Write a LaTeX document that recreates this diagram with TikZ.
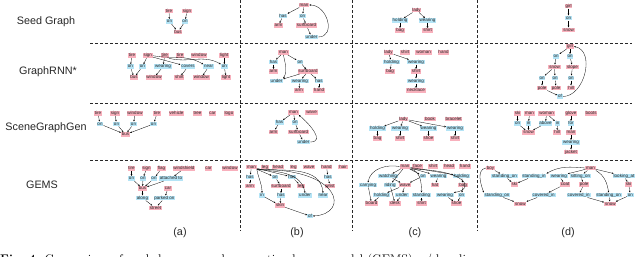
\documentclass[tikz,border=0pt]{standalone}
\usepackage{fontspec}
\setsansfont{Liberation Sans}
\usepackage{tikz}
\usetikzlibrary{arrows.meta}
\definecolor{objpink}{RGB}{248,176,188}
\definecolor{relblue}{RGB}{180,228,246}
\definecolor{gridgray}{RGB}{40,40,40}

\begin{document}
\begin{tikzpicture}[x=1pt, y=-1pt, >={Stealth[length=1.8pt, width=1.6pt]},
    obj/.style={fill=objpink, text=black!85, inner xsep=0.8pt, inner ysep=0.3pt,
        text height=3.1pt, text depth=0.9pt, font=\fontsize{4.5}{4.5}\selectfont\sffamily},
    rel/.style={obj, fill=relblue},
    link/.style={->, line width=0.3pt},
    gridline/.style={gridgray, line width=0.8pt, dash pattern=on 3pt off 2pt},
    rowlabel/.style={text=black!85, font=\fontsize{10.8}{12}\selectfont\sffamily}]

    \useasboundingbox (0,0) rectangle (640,257);

    % separators
    \draw[gridline] (90,43) -- (632,43);
    \draw[gridline] (90,103) -- (632,103);
    \draw[gridline] (90,160) -- (632,160);
    \draw[gridline] (240,0) -- (240,231);
    \draw[gridline] (352,0) -- (352,231);
    \draw[gridline] (477,0) -- (477,231);

    \node[rowlabel] (lseed) at (46,22) {Seed Graph};
    \node[rowlabel] (lrnn) at (48,72) {GraphRNN*};
    \node[rowlabel] (lsgg) at (46,128) {SceneGraphGen};
    \node[rowlabel] (lgems) at (42,185) {GEMS};

    \node[rowlabel] (la) at (180,233) {(a)};
    \node[rowlabel] (lb) at (297,233) {(b)};
    \node[rowlabel] (lc) at (415,233) {(c)};
    \node[rowlabel] (ld) at (568,233) {(d)};

    % column (a)
    \node[obj] (Sa1) at (169,11) {tire};
    \node[obj] (Sa2) at (187,11) {sign};
    \node[rel] (Sa3) at (169.5,21.5) {on};
    \node[rel] (Sa4) at (185,21.5) {on};
    \node[obj] (Sa5) at (178,32) {bus};
    \path[link] (Sa1) edge (Sa3) (Sa2) edge (Sa4) (Sa3) edge (Sa5) (Sa4) edge (Sa5);

    \node[obj] (Ra1) at (132,55.7) {tire};
    \node[obj] (Ra2) at (147.7,55.7) {sign};
    \node[obj] (Ra3) at (164.7,55.7) {tire};
    \node[obj] (Ra4) at (180.3,55.7) {tire};
    \node[obj] (Ra5) at (199,55.7) {window};
    \node[obj] (Ra6) at (224.3,55.7) {light};
    \node[rel] (Ra7) at (130.3,66.7) {on};
    \node[rel] (Ra8) at (142.3,66.7) {on};
    \node[rel] (Ra9) at (163,66.7) {wearing};
    \node[rel] (Ra10) at (188,66.7) {covers};
    \node[rel] (Ra11) at (208.7,66.7) {near};
    \node[rel] (Ra12) at (224.3,66.7) {on};
    \node[obj] (Ra13) at (134,77.7) {bus};
    \node[obj] (Ra14) at (154,77.7) {window};
    \node[obj] (Ra15) at (179.3,77.7) {shirt};
    \node[obj] (Ra16) at (201.3,77.7) {window};
    \node[obj] (Ra17) at (226,77.7) {light};
    \path[link] (Ra1) edge (Ra7) (Ra7) edge (Ra13) (Ra2) edge (Ra8) (Ra8) edge (Ra13)
        (Ra3) edge (Ra9) (Ra9) edge (Ra14) (Ra2) edge (Ra10) (Ra10) edge (Ra15)
        (Ra11) edge (Ra16) (Ra6) edge (Ra12) (Ra12) edge (Ra17);
    \path[link] (Ra2.east) edge[out=-10, in=150] (Ra11.north west);
    \path[link] (Ra3.south east) edge[out=-15, in=150] (Ra12.north west);

    \node[obj] (Ga1) at (98,113.5) {tire};
    \node[obj] (Ga2) at (115,113.5) {sign};
    \node[obj] (Ga3) at (135,113.5) {window};
    \node[obj] (Ga4) at (157,113.5) {tire};
    \node[obj] (Ga5) at (176.5,113.5) {vehicle};
    \node[obj] (Ga6) at (197.5,113.5) {tree};
    \node[obj] (Ga7) at (212.5,113.5) {car};
    \node[obj] (Ga8) at (229,113.5) {logo};
    \node[rel] (Ga9) at (100,124) {on};
    \node[rel] (Ga10) at (116.5,124) {on};
    \node[rel] (Ga11) at (133.5,124) {on};
    \node[rel] (Ga12) at (153.5,124) {on};
    \node[obj] (Ga13) at (125.5,134.5) {bus};
    \path[link] (Ga1) edge (Ga9) (Ga9) edge (Ga13) (Ga2) edge (Ga10) (Ga10) edge (Ga13)
        (Ga3) edge (Ga11) (Ga11) edge (Ga13) (Ga4) edge (Ga12) (Ga12) edge (Ga13);

    \node[obj] (Ea1) at (131.5,168.5) {tire};
    \node[obj] (Ea2) at (146.5,168.5) {sign};
    \node[obj] (Ea3) at (161.5,168.5) {flag};
    \node[obj] (Ea4) at (184,168.5) {windshield};
    \node[obj] (Ea5) at (208.5,168.5) {car};
    \node[obj] (Ea6) at (230,168.5) {window};
    \node[rel] (Ea7) at (131.5,178.5) {on};
    \node[rel] (Ea8) at (143,178.5) {on};
    \node[rel] (Ea9) at (154,178.5) {on};
    \node[rel] (Ea10) at (171,178.5) {attached to};
    \node[obj] (Ea11) at (142.5,188.5) {bus};
    \node[obj] (Ea12) at (168,188.5) {car};
    \node[rel] (Ea13) at (142.5,198) {along};
    \node[rel] (Ea14) at (164.5,198) {parked on};
    \node[obj] (Ea15) at (155.5,208) {street};
    \path[link] (Ea1) edge (Ea7) (Ea7) edge (Ea11) (Ea2) edge (Ea8) (Ea8) edge (Ea11)
        (Ea3) edge (Ea9) (Ea9) edge (Ea11) (Ea4) edge (Ea10) (Ea10) edge (Ea11)
        (Ea11) edge (Ea13) (Ea13) edge (Ea15) (Ea12) edge (Ea14) (Ea14) edge (Ea15);

    % column (b)
    \node[obj] (Sb1) at (304,5) {man};
    \node[rel] (Sb2) at (283,16) {has};
    \node[rel] (Sb3) at (302.5,16) {on};
    \node[obj] (Sb4) at (278.5,25.5) {arm};
    \node[obj] (Sb5) at (306.5,25.5) {surfboard};
    \node[rel] (Sb6) at (311.5,37) {under};
    \path[link] (Sb1) edge (Sb2) (Sb2) edge (Sb4) (Sb1) edge (Sb3) (Sb3) edge (Sb5) (Sb5) edge (Sb6);
    \path[link] (Sb6.east) edge[out=0, in=0, looseness=1.4] (Sb1.east);

    \node[obj] (Rb1) at (283.5,52.5) {man};
    \node[rel] (Rb2) at (273.5,62) {has};
    \node[rel] (Rb3) at (300,62) {on};
    \node[obj] (Rb4) at (273.5,71.5) {arm};
    \node[obj] (Rb5) at (308,71.5) {surfboard};
    \node[rel] (Rb6) at (276.5,81) {under};
    \node[rel] (Rb7) at (300,81) {wearing};
    \node[rel] (Rb8) at (319,81) {has};
    \node[obj] (Rb9) at (299,90.5) {arm};
    \node[obj] (Rb10) at (319,90.5) {hand};
    \path[link] (Rb1) edge (Rb2) (Rb2) edge (Rb4) (Rb1) edge (Rb3) (Rb3) edge (Rb5)
        (Rb5) edge (Rb6) (Rb5) edge (Rb7) (Rb7) edge (Rb9) (Rb5) edge (Rb8) (Rb8) edge (Rb10);
    \path[link] (Rb1.south) edge[out=-80, in=60] (Rb6.north east);

    \node[obj] (Gb1) at (293.5,112.5) {man};
    \node[obj] (Gb2) at (311.5,112.5) {wave};
    \node[rel] (Gb3) at (279.5,122.5) {has};
    \node[rel] (Gb4) at (295,122.5) {on};
    \node[obj] (Gb5) at (273.5,132) {arm};
    \node[obj] (Gb6) at (298.5,132) {surfboard};
    \node[rel] (Gb7) at (303.5,142) {under};
    \path[link] (Gb1) edge (Gb3) (Gb3) edge (Gb5) (Gb1) edge (Gb4) (Gb4) edge (Gb6) (Gb6) edge (Gb7);
    \path[link] (Gb7.east) edge[out=0, in=-40, looseness=1.3] (Gb1.south east);

    \node[obj] (Eb1) at (251.5,167) {man};
    \node[obj] (Eb2) at (265,167) {leg};
    \node[obj] (Eb3) at (278,167) {head};
    \node[obj] (Eb4) at (293.5,167) {leg};
    \node[obj] (Eb5) at (309,167) {wave};
    \node[obj] (Eb6) at (326.5,167) {hand};
    \node[obj] (Eb7) at (343,167) {hair};
    \node[rel] (Eb8) at (250,177) {has};
    \node[rel] (Eb9) at (275,177) {on};
    \node[rel] (Eb10) at (292,177) {has};
    \node[rel] (Eb11) at (328,177) {has};
    \node[obj] (Eb12) at (250,186) {arm};
    \node[obj] (Eb13) at (281,186) {surfboard};
    \node[obj] (Eb14) at (301,186) {leg};
    \node[obj] (Eb15) at (330,186) {wrist};
    \node[rel] (Eb16) at (262,195.5) {in};
    \node[rel] (Eb17) at (281,195.5) {has};
    \node[rel] (Eb18) at (305,195.5) {under};
    \node[rel] (Eb19) at (323,195.5) {near};
    \node[obj] (Eb20) at (280,205.5) {skin};
    \node[rel] (Eb21) at (310,216) {of};
    \path[link] (Eb1) edge (Eb8) (Eb8) edge (Eb12) (Eb1) edge (Eb9) (Eb9) edge (Eb13)
        (Eb1) edge (Eb10) (Eb10) edge (Eb14) (Eb6) edge (Eb11) (Eb11) edge (Eb15)
        (Eb13) edge (Eb17) (Eb17) edge (Eb20) (Eb16) edge (Eb20) (Eb20) edge (Eb21);
    \path[link] (Eb1.south east) edge[out=-80, in=90] (Eb16.north);
    \path[link] (Eb1.south east) edge[out=-5, in=100] (Eb18.north);
    \path[link] (Eb1.south east) edge[out=-3, in=95] (Eb19.north);
    \draw[link] (Eb1.south east) .. controls (342,168) and (350,214) .. (Eb21.east);

    % column (c)
    \node[obj] (Sc1) at (416.5,10) {lady};
    \node[rel] (Sc2) at (400,20.5) {holding};
    \node[rel] (Sc3) at (427.5,20.5) {wearing};
    \node[obj] (Sc4) at (400,30.5) {bag};
    \node[obj] (Sc5) at (427.5,30.5) {shirt};
    \path[link] (Sc1) edge (Sc2) (Sc2) edge (Sc4) (Sc1) edge (Sc3) (Sc3) edge (Sc5);

    \node[obj] (Rc1) at (388.5,52.5) {lady};
    \node[obj] (Rc2) at (405,52.5) {shirt};
    \node[obj] (Rc3) at (423.5,52.5) {woman};
    \node[obj] (Rc4) at (443.5,52.5) {hand};
    \node[rel] (Rc5) at (391.5,62) {holding};
    \node[rel] (Rc6) at (416,62) {wearing};
    \node[obj] (Rc7) at (390,71.5) {bag};
    \node[obj] (Rc8) at (416,71.5) {shirt};
    \node[rel] (Rc9) at (416,81) {wearing};
    \node[obj] (Rc10) at (416,90.5) {necklace};
    \path[link] (Rc1) edge (Rc5) (Rc5) edge (Rc7) (Rc1) edge (Rc6) (Rc6) edge (Rc8)
        (Rc8) edge (Rc9) (Rc9) edge (Rc10);

    \node[obj] (Gc1) at (403.5,119) {lady};
    \node[obj] (Gc2) at (430,119) {book};
    \node[obj] (Gc3) at (453.5,119) {bracelet};
    \node[rel] (Gc4) at (377.5,128.5) {holding};
    \node[rel] (Gc5) at (400,128.5) {wearing};
    \node[rel] (Gc6) at (428.5,128.5) {wearing};
    \node[rel] (Gc7) at (455,128.5) {wearing};
    \node[obj] (Gc8) at (377.5,138.5) {bag};
    \node[obj] (Gc9) at (400,138.5) {shirt};
    \node[obj] (Gc10) at (428.5,138.5) {shoe};
    \node[obj] (Gc11) at (455,138.5) {shirt};
    \path[link] (Gc1) edge (Gc4) (Gc1) edge (Gc5) (Gc1) edge (Gc6) (Gc1) edge (Gc7)
        (Gc4) edge (Gc8) (Gc5) edge (Gc9) (Gc6) edge (Gc10) (Gc7) edge (Gc11);

    \node[obj] (Ec1) at (405,166.5) {man};
    \node[obj] (Ec2) at (417.5,166.5) {face};
    \node[obj] (Ec3) at (433,166.5) {shirt};
    \node[obj] (Ec4) at (449,166.5) {head};
    \node[obj] (Ec5) at (465,166.5) {hand};
    \node[rel] (Ec6) at (388,176) {watching};
    \node[rel] (Ec7) at (423,176) {on};
    \node[rel] (Ec8) at (438.5,176) {wearing};
    \node[rel] (Ec9) at (461.5,176) {holding};
    \node[rel] (Ec10) at (368,185) {carrying};
    \node[rel] (Ec11) at (390,185) {riding};
    \node[obj] (Ec12) at (405,185) {wave};
    \node[obj] (Ec13) at (435,185) {hat};
    \node[obj] (Ec14) at (463,185) {bag};
    \node[rel] (Ec15) at (381.5,195) {holding};
    \node[rel] (Ec16) at (402,195) {under};
    \node[rel] (Ec17) at (421.5,195) {standing};
    \node[rel] (Ec18) at (445,195) {wearing};
    \node[rel] (Ec19) at (461.5,195) {on};
    \node[obj] (Ec20) at (371.5,203.5) {board};
    \node[obj] (Ec21) at (395,203.5) {desk};
    \node[obj] (Ec22) at (421.5,203.5) {shirt};
    \node[obj] (Ec23) at (456.5,203.5) {shoe};
    \path[link] (Ec1) edge (Ec6) (Ec6) edge (Ec12) (Ec10) edge (Ec20) (Ec1) edge (Ec11)
        (Ec11) edge (Ec21) (Ec12) edge (Ec15) (Ec15) edge (Ec20) (Ec12) edge (Ec16)
        (Ec16) edge (Ec21) (Ec1) edge (Ec7) (Ec7) edge (Ec12) (Ec1) edge (Ec8)
        (Ec8) edge (Ec13) (Ec1) edge (Ec9) (Ec9) edge (Ec14) (Ec17) edge (Ec22)
        (Ec18) edge (Ec23) (Ec14) edge (Ec19) (Ec19) edge (Ec23);
    \path[link] (Ec1.west) edge[out=170, in=80] (Ec10.north);
    \path[link] (Ec1.south east) edge[out=-10, in=90] (Ec17.north);
    \draw[link] (Ec1.south east) .. controls (470,170) and (474,190) .. (Ec18.north east);

    % column (d)
    \node[obj] (Sd1) at (568.5,6) {girl};
    \node[rel] (Sd2) at (568.5,18) {on};
    \node[obj] (Sd3) at (568.5,30) {snow};
    \path[link] (Sd1) edge (Sd2) (Sd2) edge (Sd3);

    \node[obj] (Rd1) at (570,46.5) {girl};
    \node[rel] (Rd2) at (556,56.5) {on};
    \node[rel] (Rd3) at (570,56.5) {on};
    \node[obj] (Rd4) at (554.5,67) {snow};
    \node[obj] (Rd5) at (572.5,67) {slope};
    \node[rel] (Rd6) at (542,78) {on};
    \node[rel] (Rd7) at (555,78) {on};
    \node[rel] (Rd8) at (571,78) {on};
    \node[obj] (Rd9) at (542,88) {pole};
    \node[obj] (Rd10) at (556,88) {pole};
    \node[obj] (Rd11) at (571,88) {hill};
    \node[rel] (Rd12) at (560,96.5) {of};
    \path[link] (Rd1) edge (Rd2) (Rd2) edge (Rd4) (Rd1) edge (Rd3) (Rd3) edge (Rd5)
        (Rd4) edge (Rd6) (Rd6) edge (Rd9) (Rd4) edge (Rd7) (Rd7) edge (Rd10)
        (Rd5) edge (Rd8) (Rd8) edge (Rd11) (Rd9) edge (Rd12);
    \path[link] (Rd12.east) edge[out=0, in=-10, looseness=1.1] (Rd1.east);

    \node[obj] (Gd1) at (517.5,113.5) {ski};
    \node[obj] (Gd2) at (529.5,113.5) {man};
    \node[obj] (Gd3) at (546.5,113.5) {woman};
    \node[obj] (Gd4) at (571,113.5) {glove};
    \node[obj] (Gd5) at (591,113.5) {boots};
    \node[rel] (Gd6) at (517.5,123.5) {on};
    \node[rel] (Gd7) at (528.5,123.5) {in};
    \node[rel] (Gd8) at (545.5,123.5) {above};
    \node[rel] (Gd9) at (557.5,123.5) {in};
    \node[rel] (Gd10) at (571,123.5) {for};
    \node[obj] (Gd11) at (528.5,132.5) {snow};
    \node[obj] (Gd12) at (557,132.5) {hill};
    \node[obj] (Gd13) at (571,132.5) {man};
    \node[rel] (Gd14) at (571,142.5) {wearing};
    \node[obj] (Gd15) at (571,152) {jacket};
    \path[link] (Gd1) edge (Gd6) (Gd6) edge (Gd11) (Gd2) edge (Gd7) (Gd7) edge (Gd11)
        (Gd3) edge (Gd8) (Gd8) edge (Gd11) (Gd3) edge (Gd9) (Gd9) edge (Gd12)
        (Gd4) edge (Gd10) (Gd10) edge (Gd13) (Gd13) edge (Gd14) (Gd14) edge (Gd15);

    \node[obj] (Ed1) at (490.5,168) {boy};
    \node[obj] (Ed2) at (590.5,168) {man};
    \node[rel] (Ed3) at (504.5,176) {standing\_on};
    \node[rel] (Ed4) at (534,176) {standing\_in};
    \node[rel] (Ed5) at (559,176) {wearing};
    \node[rel] (Ed6) at (580.5,176) {sitting\_on};
    \node[rel] (Ed7) at (624,176) {looking\_at};
    \node[obj] (Ed8) at (514.3,184.3) {ski};
    \node[obj] (Ed9) at (565,184.3) {coat};
    \node[obj] (Ed10) at (584,184.3) {pole};
    \node[obj] (Ed11) at (628.7,184.3) {ski};
    \node[rel] (Ed12) at (497,195) {standing\_on};
    \node[rel] (Ed13) at (543.7,195) {covered\_in};
    \node[rel] (Ed14) at (578.7,195) {covered\_in};
    \node[rel] (Ed15) at (608.7,195) {standing\_on};
    \node[rel] (Ed16) at (630.3,195) {on};
    \node[obj] (Ed17) at (520.3,204) {snow};
    \node[obj] (Ed18) at (610.3,204) {snow};
    \path[link] (Ed1) edge (Ed3) (Ed3) edge (Ed8) (Ed4) edge (Ed8) (Ed2) edge (Ed5)
        (Ed5) edge (Ed9) (Ed2) edge (Ed6) (Ed6) edge (Ed10) (Ed2) edge (Ed7)
        (Ed7) edge (Ed11) (Ed9) edge (Ed13) (Ed10) edge (Ed14) (Ed11) edge (Ed16)
        (Ed12) edge (Ed17) (Ed13) edge (Ed17) (Ed14) edge (Ed18) (Ed15) edge (Ed18)
        (Ed16) edge (Ed18);
    \path[link] (Ed1.west) edge[out=190, in=110] (Ed12.north west);
    \path[link] (Ed2.west) edge[out=175, in=30] (Ed4.north east);
    \path[link] (Ed2.south east) edge[out=-30, in=100] (Ed15.north);

    \node[anchor=base west, inner sep=0pt, font=\fontsize{12.5}{14}\selectfont\rmfamily] (caption) at (0,263)
        {\textbf{Fig.~4:} Comparison of seeded scene graph generation by our model (GEMS) w/ baselines};
\end{tikzpicture}
\end{document}
